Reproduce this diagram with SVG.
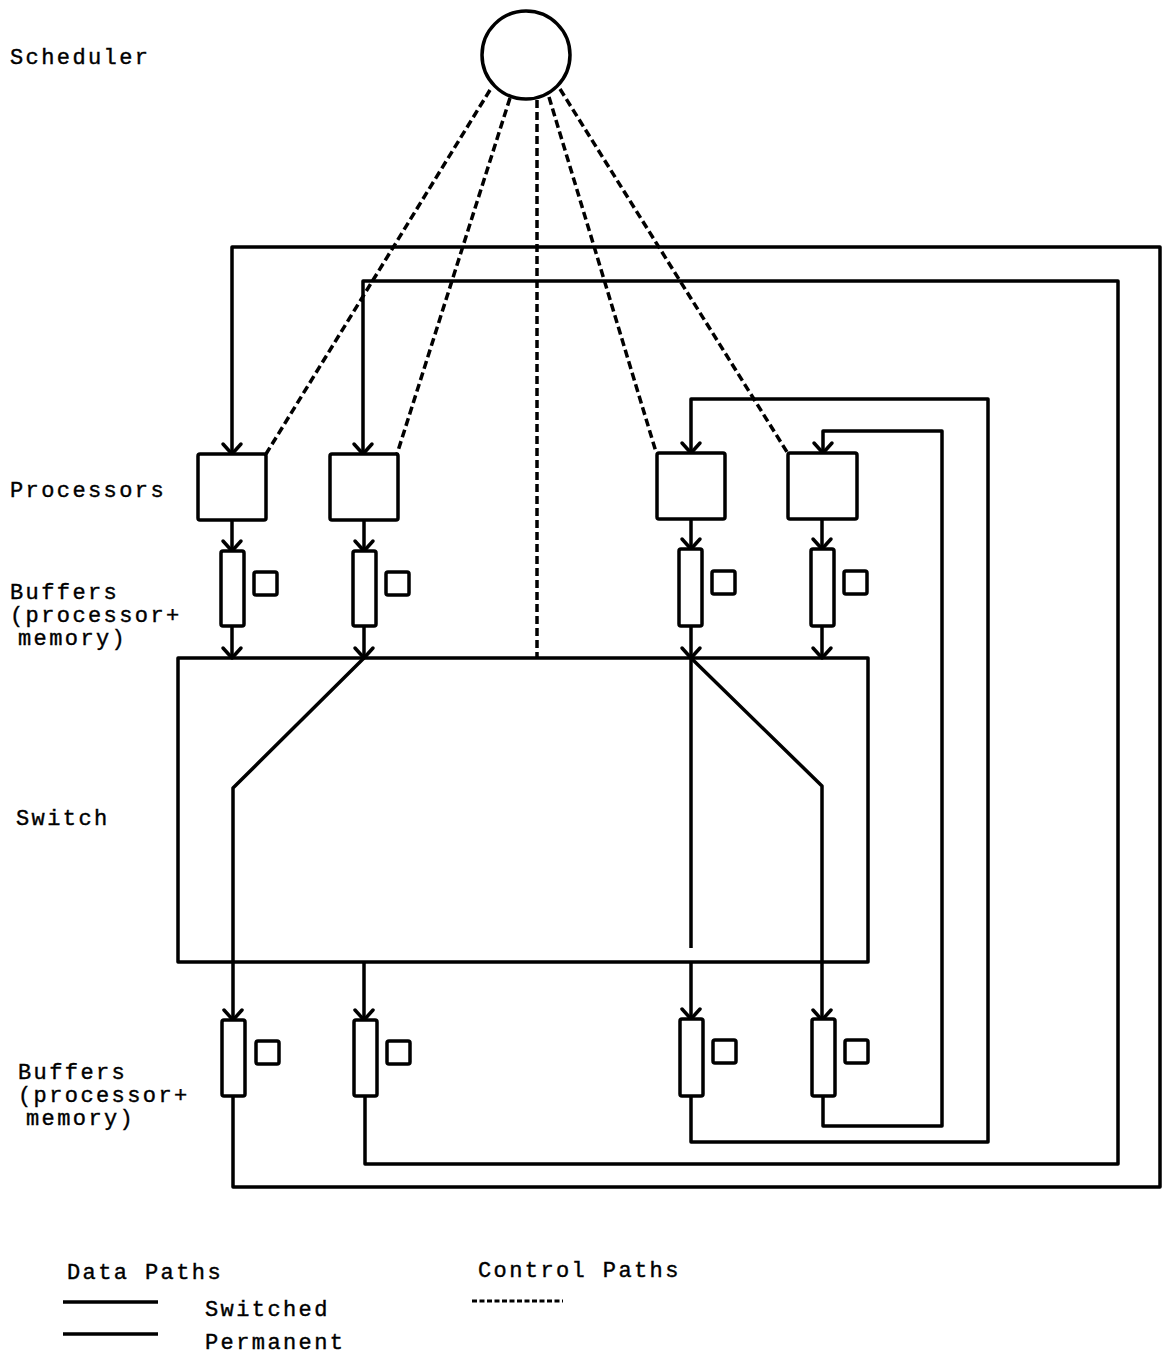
<svg xmlns="http://www.w3.org/2000/svg" width="1162" height="1358" viewBox="0 0 1162 1358">
<defs>
<marker id="arr" markerUnits="userSpaceOnUse" markerWidth="24" markerHeight="24" viewBox="-12 -12 24 24" refX="0" refY="0" orient="auto" overflow="visible">
<path d="M-10,-9 L0,0 L-10,9" fill="none" stroke="#000" stroke-width="3.5" stroke-linecap="round" stroke-linejoin="round"/>
</marker>
</defs>
<style>
.bg{fill:#fff}
.box{fill:#fff;stroke:#000;stroke-width:3.5}
.ln{fill:none;stroke:#000;stroke-width:3.5;stroke-linejoin:round}
.ctl{fill:none;stroke:#000;stroke-width:3.5;stroke-dasharray:8 4}
.lbl{font-family:"Liberation Mono","Courier New",monospace;font-size:22px;letter-spacing:2.4px;fill:#000;stroke:#000;stroke-width:0.4}
</style>
<rect class="bg" x="0" y="0" width="1162" height="1358"/>

<g id="labels">
<text class="lbl" x="10" y="64">Scheduler</text>
<text class="lbl" x="10" y="497">Processors</text>
<text class="lbl" x="10" y="599">Buffers</text>
<text class="lbl" x="10" y="622">(processor+</text>
<text class="lbl" x="18" y="645">memory)</text>
<text class="lbl" x="16" y="825">Switch</text>
<text class="lbl" x="18" y="1079">Buffers</text>
<text class="lbl" x="18" y="1102">(processor+</text>
<text class="lbl" x="26" y="1125">memory)</text>
</g>

<g id="connectors">
<!-- control paths -->
<path class="ctl" d="M490,90 L266,454"/>
<path class="ctl" d="M510,98 L397,454"/>
<path class="ctl" d="M537,100 L537,658"/>
<path class="ctl" d="M549,97 L656,452"/>
<path class="ctl" d="M560,89 L787,452"/>
<!-- feedback loops -->
<path class="ln" d="M233,1096 V1187 H1160 V247 H232 V454" marker-end="url(#arr)"/>
<path class="ln" d="M365,1096 V1164 H1118 V281 H363 V454" marker-end="url(#arr)"/>
<path class="ln" d="M691,1096 V1142 H988 V399 H691 V453" marker-end="url(#arr)"/>
<path class="ln" d="M823,1096 V1126 H942 V431 H823 V453" marker-end="url(#arr)"/>
<!-- processor to buffer -->
<path class="ln" d="M232,520 V551" marker-end="url(#arr)"/>
<path class="ln" d="M364,520 V551" marker-end="url(#arr)"/>
<path class="ln" d="M691,519 V549" marker-end="url(#arr)"/>
<path class="ln" d="M822,519 V549" marker-end="url(#arr)"/>
<!-- buffer to switch -->
<path class="ln" d="M232,626 V658" marker-end="url(#arr)"/>
<path class="ln" d="M364,626 V658" marker-end="url(#arr)"/>
<path class="ln" d="M691,626 V658" marker-end="url(#arr)"/>
<path class="ln" d="M822,626 V658" marker-end="url(#arr)"/>
</g>

<g id="switch">
<rect class="ln" x="178" y="658" width="690" height="304"/>
<path class="ln" d="M364,658 L233,788 V1020" marker-end="url(#arr)"/>
<path class="ln" d="M691,658 V948"/>
<path class="ln" d="M691,658 L822,786 V1020" marker-end="url(#arr)"/>
<path class="ln" d="M364,962 V1020" marker-end="url(#arr)"/>
<path class="ln" d="M691,962 V1019" marker-end="url(#arr)"/>
</g>

<g id="scheduler">
<circle class="box" cx="526" cy="55" r="44"/>
</g>

<g id="processors">
<rect class="box" x="198" y="454" width="68" height="66" rx="2"/>
<rect class="box" x="330" y="454" width="68" height="66" rx="2"/>
<rect class="box" x="657" y="453" width="68" height="66" rx="2"/>
<rect class="box" x="788" y="453" width="69" height="66" rx="2"/>
</g>

<g id="buffers-top">
<rect class="box" x="221" y="551" width="23" height="75" rx="2"/>
<rect class="box" x="254" y="572" width="23" height="23" rx="2"/>
<rect class="box" x="353" y="551" width="23" height="75" rx="2"/>
<rect class="box" x="386" y="572" width="23" height="23" rx="2"/>
<rect class="box" x="679" y="549" width="23" height="77" rx="2"/>
<rect class="box" x="712" y="571" width="23" height="23" rx="2"/>
<rect class="box" x="811" y="549" width="23" height="77" rx="2"/>
<rect class="box" x="844" y="571" width="23" height="23" rx="2"/>
</g>

<g id="buffers-bottom">
<rect class="box" x="222" y="1020" width="23" height="76" rx="2"/>
<rect class="box" x="256" y="1041" width="23" height="23" rx="2"/>
<rect class="box" x="354" y="1020" width="23" height="76" rx="2"/>
<rect class="box" x="387" y="1041" width="23" height="23" rx="2"/>
<rect class="box" x="680" y="1019" width="23" height="77" rx="2"/>
<rect class="box" x="713" y="1040" width="23" height="23" rx="2"/>
<rect class="box" x="812" y="1019" width="23" height="77" rx="2"/>
<rect class="box" x="845" y="1040" width="23" height="23" rx="2"/>
</g>

<g id="legend">
<text class="lbl" x="67" y="1279">Data Paths</text>
<line class="ln" x1="63" y1="1302" x2="158" y2="1302"/>
<text class="lbl" x="205" y="1316">Switched</text>
<line class="ln" x1="63" y1="1334" x2="158" y2="1334"/>
<text class="lbl" x="205" y="1349">Permanent</text>
<text class="lbl" x="478" y="1277">Control Paths</text>
<line x1="472" y1="1301" x2="563" y2="1301" stroke="#000" stroke-width="3" stroke-dasharray="5 2.5"/>
</g>
</svg>
